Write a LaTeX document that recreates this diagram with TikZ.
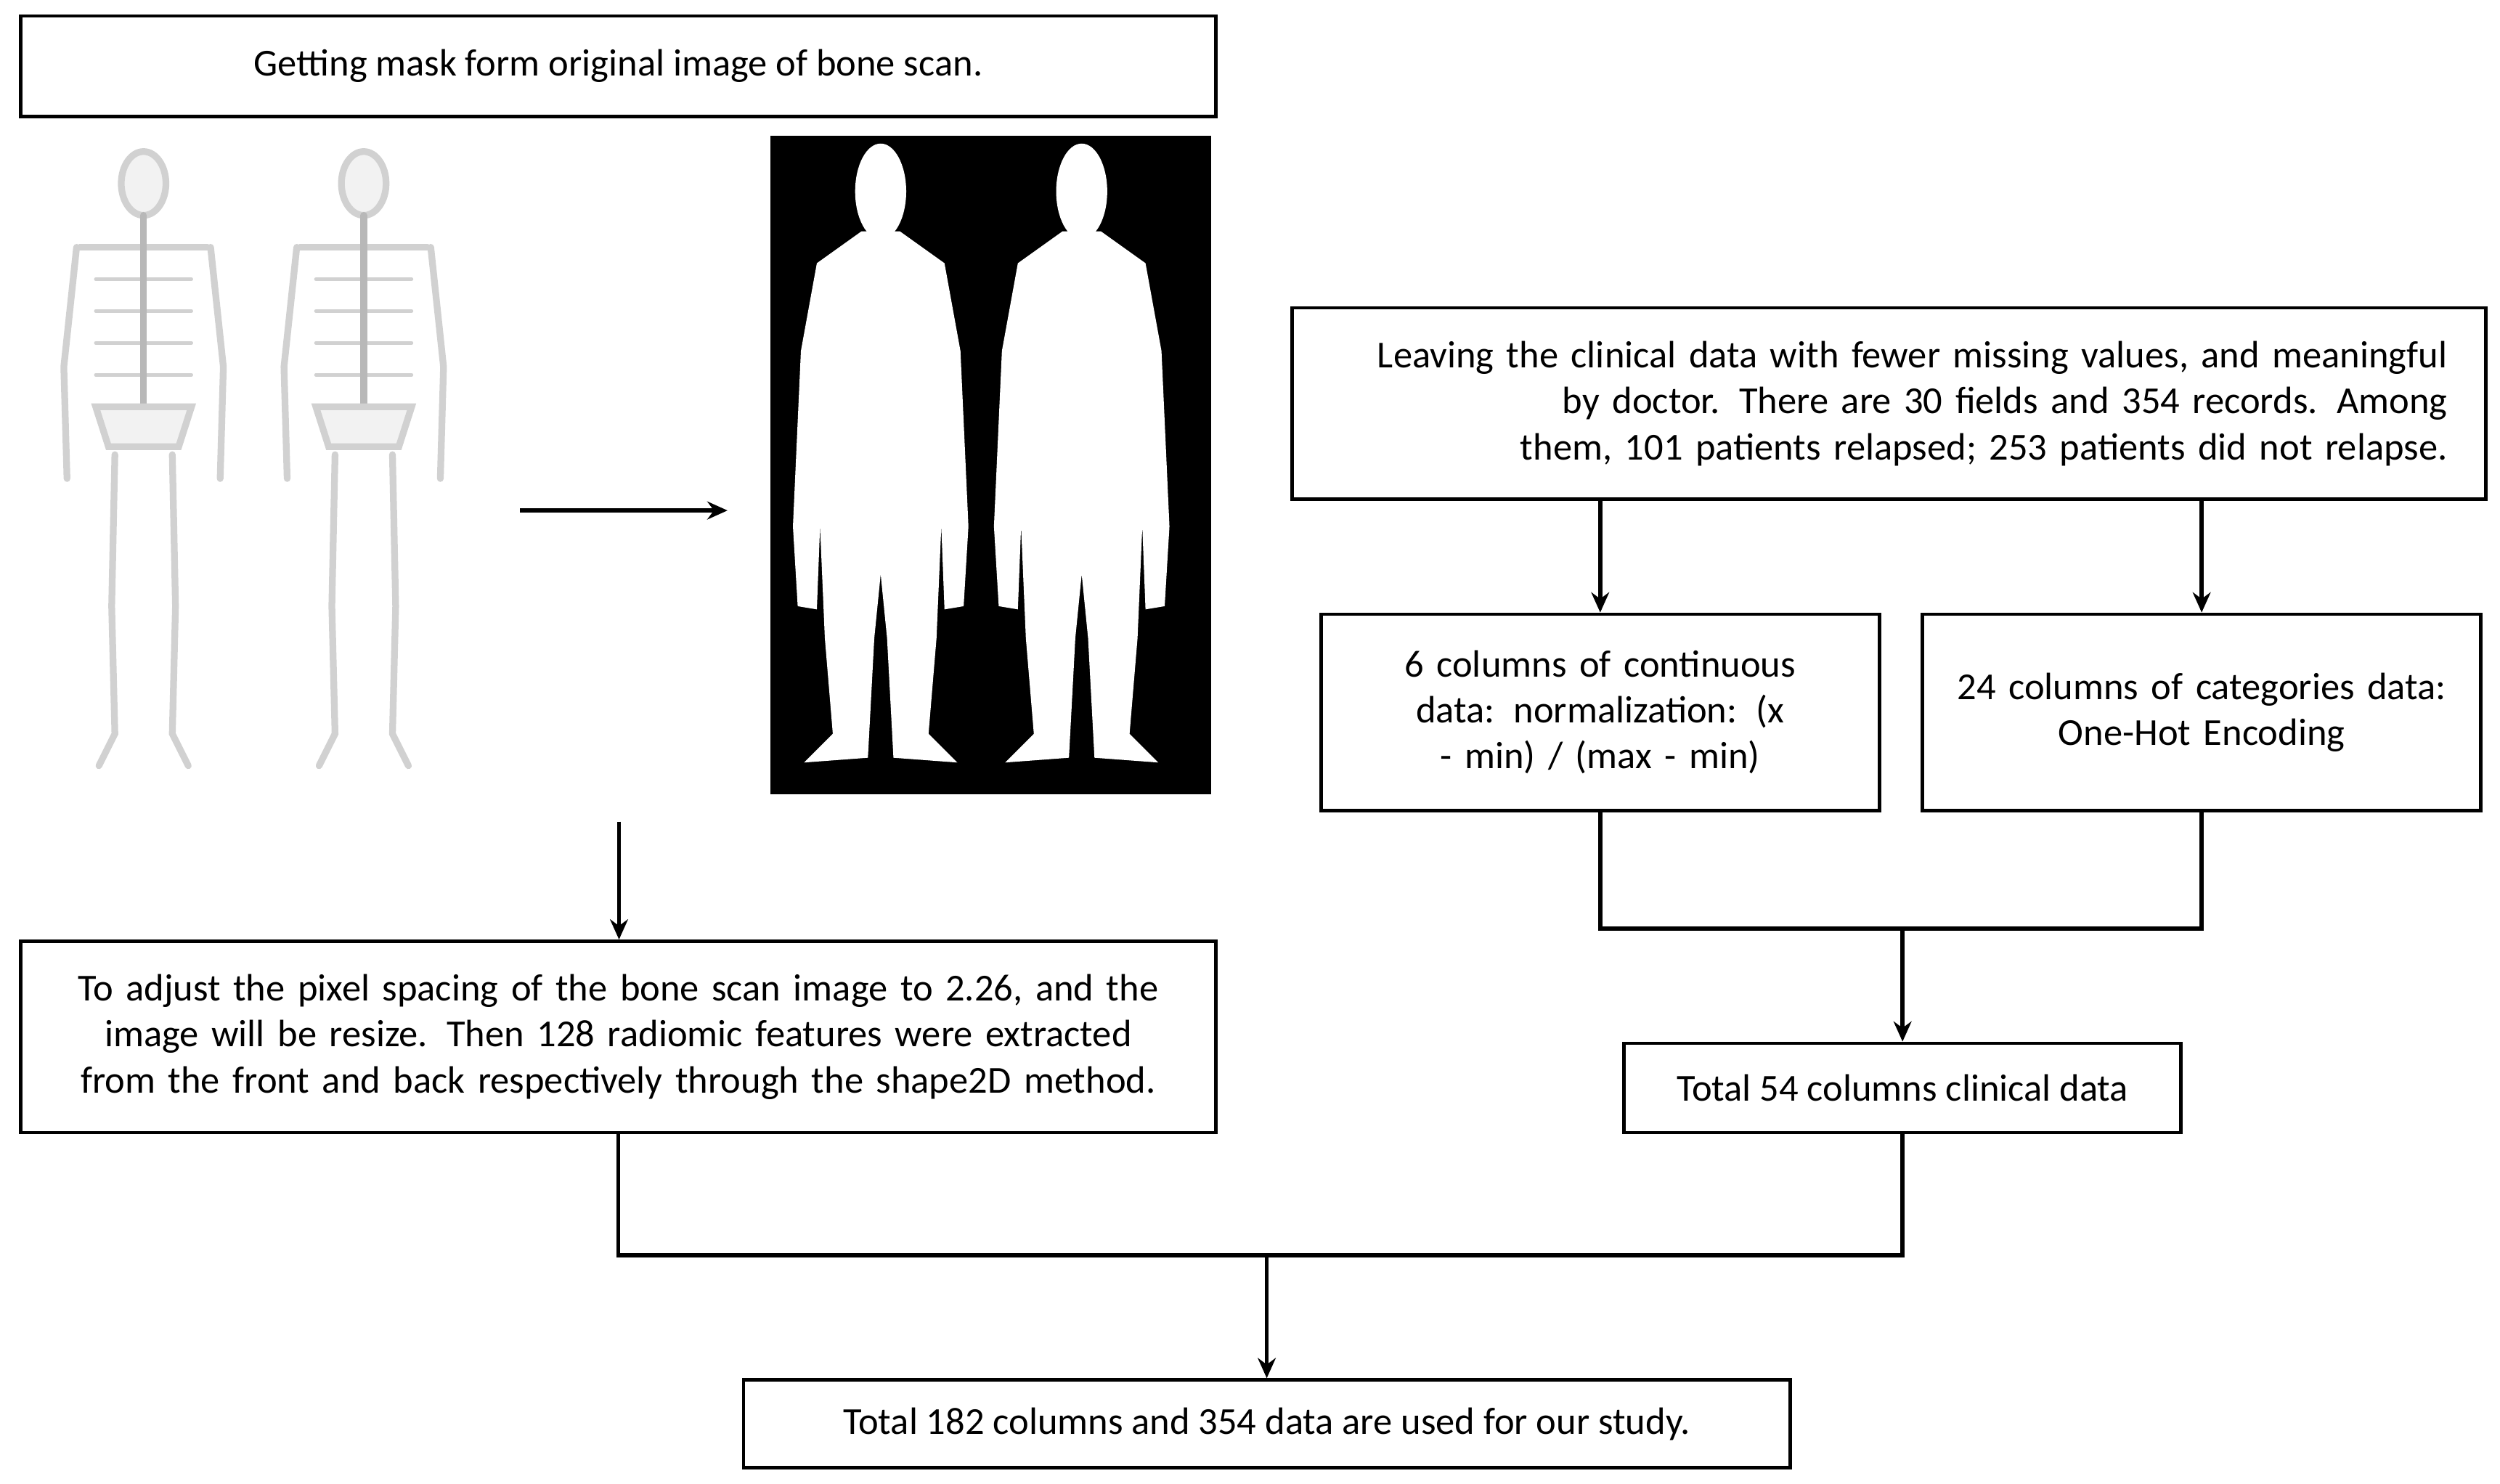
\documentclass[tikz,border=0pt]{standalone}
\usepackage{fontspec}
\setmainfont{Carlito}
\usetikzlibrary{arrows.meta}
\newcommand{\nohyph}{\hyphenpenalty 10000 \exhyphenpenalty 10000 }
\begin{document}
\begin{tikzpicture}[x=0.05cm,y=-0.05cm,
  box/.style={draw,line width=3pt,inner sep=0pt,font={\fontsize{34}{41}\selectfont\nohyph},align=center},
  arr/.style={line width=3.6pt,-{Stealth[length=18pt,width=16pt]}},
  ln/.style={line width=3.6pt}]
\useasboundingbox (0,0) rectangle (1567,930);
\fill[white] (0,0) rectangle (1567,930);
% boxes
\node[box,minimum width=749*0.05cm,minimum height=63*0.05cm] (top) at (387.5,41.5) {Getting mask form original image of bone scan.};
\node[box,minimum width=749*0.05cm,minimum height=120*0.05cm,text width=730*0.05cm] (px) at (387.5,650) {To adjust the pixel spacing of the bone scan image to 2.26, and the image will be resize. Then 128 radiomic features were extracted from the front and back respectively through the shape2D method.};
\node[box,minimum width=748*0.05cm,minimum height=120*0.05cm,text width=700*0.05cm,align=right] (clin) at (1184,253) {Leaving the clinical data with fewer missing values, and meaningful by doctor. There are 30 fields and 354 records. Among them, 101 patients relapsed; 253 patients did not relapse.};
\node[box,minimum width=350*0.05cm,minimum height=123*0.05cm,text width=335*0.05cm] (cont) at (1003,446.5) {6 columns of continuous data: normalization: (x - min) / (max - min)};
\node[box,minimum width=350*0.05cm,minimum height=123*0.05cm,text width=335*0.05cm] (cat) at (1380,446.5) {24 columns of categories data:\\ One-Hot Encoding};
\node[box,minimum width=349*0.05cm,minimum height=56*0.05cm] (tot) at (1192.5,682) {Total 54 columns clinical data};
\node[box,minimum width=656*0.05cm,minimum height=55*0.05cm] (fin) at (794,892.5) {Total 182 columns and 354 data are used for our study.};
% images
\coordinate (s1) at (326,320); \coordinate (s2) at (456,320);
\draw[arr] (s1) -- (s2);
\node[fill=black,minimum width=276*0.05cm,minimum height=413*0.05cm,inner sep=0] (mask) at (621,291.5) {};
\foreach \cx in {552,678}{
 \fill[white] (\cx,120) ellipse (16 and 30);
 \fill[white] (\cx-12,145) -- (\cx-40,165) -- (\cx-50,220) -- (\cx-55,330) -- (\cx-52,380) -- (\cx-40,382) -- (\cx-38,330) -- (\cx-35,400) -- (\cx-30,460) -- (\cx-48,478) -- (\cx-8,475) -- (\cx-4,400) -- (\cx,360) -- (\cx+4,400) -- (\cx+8,475) -- (\cx+48,478) -- (\cx+30,460) -- (\cx+35,400) -- (\cx+38,330) -- (\cx+40,382) -- (\cx+52,380) -- (\cx+55,330) -- (\cx+50,220) -- (\cx+40,165) -- (\cx+12,145) -- cycle;
}
\foreach \cx in {90,228}{
 \begin{scope}[draw=black!18,fill=black!5,line width=6pt,line cap=round]
 \filldraw (\cx,115) ellipse (14 and 20);
 \draw (\cx-40,155) -- (\cx+40,155);
 \foreach \yy in {175,195,215,235} \draw[line width=3pt] (\cx-30,\yy) -- (\cx+30,\yy);
 \draw[draw=black!28] (\cx,135) -- (\cx,260);
 \filldraw (\cx-30,255) -- (\cx+30,255) -- (\cx+22,280) -- (\cx-22,280) -- cycle;
 \draw (\cx-42,155) -- (\cx-50,230) -- (\cx-48,300);
 \draw (\cx+42,155) -- (\cx+50,230) -- (\cx+48,300);
 \draw (\cx-18,285) -- (\cx-20,380) -- (\cx-18,460) -- (\cx-28,480);
 \draw (\cx+18,285) -- (\cx+20,380) -- (\cx+18,460) -- (\cx+28,480);
 \end{scope}
}
% connectors
\coordinate (a1) at (388,515);
\draw[arr] (a1) -- (px.north -| a1);
\draw[arr] (clin.south -| cont) -- (cont.north);
\draw[arr] (clin.south -| cat) -- (cat.north);
\coordinate (j1) at (1192.5,582);
\draw[ln] (cont.south) |- (j1) -| (cat.south);
\draw[arr] (j1) -- (tot.north);
\coordinate (j2) at (794,787);
\draw[ln] (px.south) |- (j2) -| (tot.south);
\draw[arr] (j2) -- (fin.north);
\end{tikzpicture}
\end{document}
